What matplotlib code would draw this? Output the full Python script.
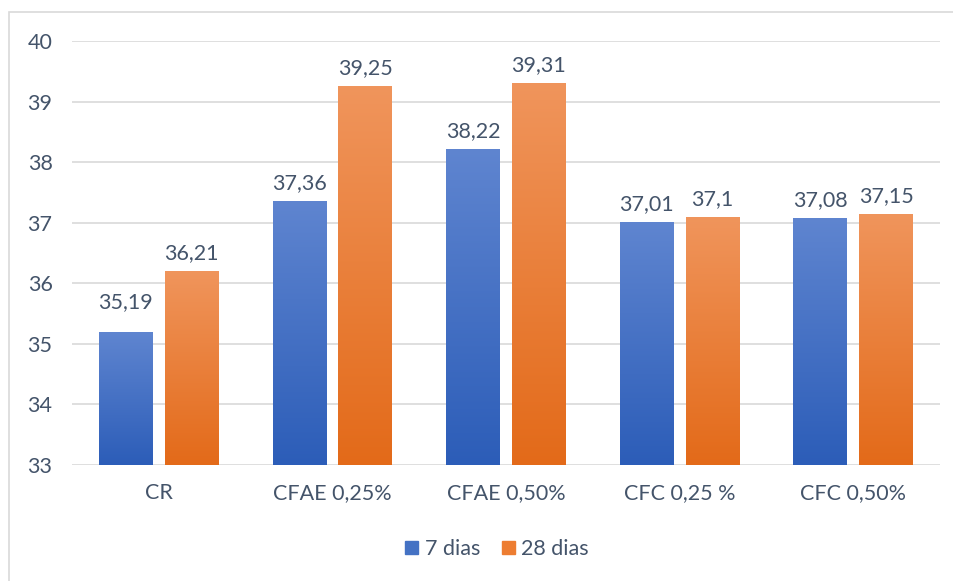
import numpy as np
import matplotlib
matplotlib.use("Agg")
from matplotlib import pyplot as plt
from matplotlib.colors import LinearSegmentedColormap
from matplotlib.patches import Rectangle

categories = ["CR", "CFAE 0,25%", "CFAE 0,50%", "CFC 0,25 %", "CFC 0,50%"]
dias_7 = [35.19, 37.36, 38.22, 37.01, 37.08]
dias_28 = [36.21, 39.25, 39.31, 37.10, 37.15]
labels_7 = ["35,19", "37,36", "38,22", "37,01", "37,08"]
labels_28 = ["36,21", "39,25", "39,31", "37,1", "37,15"]
yticks = [33, 34, 35, 36, 37, 38, 39, 40]

txt = "#44546A"
plt.rcParams['font.family'] = ['Lato', 'DejaVu Sans']
fs = 15.5

fig = plt.figure(figsize=(9.54, 5.81), dpi=100)
# marco del grafico (recortado a la derecha y abajo)
fig.patches.append(Rectangle((9 / 954, -0.1), 1.2, (581 - 12) / 581 + 0.1,
                             transform=fig.transFigure, fill=False,
                             edgecolor="#D9D9D9", linewidth=1.2))
ax = fig.add_axes([72 / 954, 1 - 465 / 581, 868 / 954, 424 / 581])

x = np.arange(len(categories))
w = 0.31
gap = 0.07

azul = LinearSegmentedColormap.from_list("azul", ["#2C5DB8", "#5F85D0"])
naranja = LinearSegmentedColormap.from_list("naranja", ["#E36A19", "#F0955C"])
grad = np.linspace(0, 1, 256).reshape(-1, 1)

def barras(pos, vals, cmap, etiquetas, extra=None):
    bars = ax.bar(pos, vals, w, bottom=0, color="none", zorder=2)
    for i, (b, v, t) in enumerate(zip(bars, vals, etiquetas)):
        x0 = b.get_x()
        im = ax.imshow(grad, cmap=cmap, aspect="auto", origin="lower",
                       extent=[x0, x0 + w, 33, v], zorder=2)
        im.set_clip_path(b)
        dy = 0.13 + (extra[i] if extra else 0)
        ax.text(x0 + w / 2, v + dy, t, ha="center", va="bottom",
                fontsize=fs, color=txt)
    return bars

# la etiqueta de CR (7 dias) va algo mas alta en el original
b7 = barras(x - (w + gap) / 2, dias_7, azul, labels_7, [0.2, 0, 0, 0, 0])
b28 = barras(x + (w + gap) / 2, dias_28, naranja, labels_28)

ax.set_xlim(-0.5, len(categories) - 0.5)
ax.set_ylim(33, 40)
ax.set_yticks(yticks)
ax.set_xticks(x)
ax.set_xticklabels(categories)
ax.tick_params(axis="both", length=0, labelsize=fs, colors=txt)
ax.tick_params(axis="x", pad=13)
ax.tick_params(axis="y", pad=14)
ax.grid(axis="y", color="#D9D9D9", linewidth=1.2, zorder=0)
ax.set_axisbelow(True)
for s in ax.spines.values():
    s.set_visible(False)

h1 = Rectangle((0, 0), 1, 1, color="#4472C4")
h2 = Rectangle((0, 0), 1, 1, color="#ED7D31")
fig.legend([h1, h2], ["7 dias", "28 dias"], loc="center",
           bbox_to_anchor=(497 / 954, 1 - 549 / 581), ncol=2, frameon=False,
           fontsize=fs, labelcolor=txt, handlelength=0.6, handleheight=0.6,
           handletextpad=0.3, columnspacing=1.0)

fig.savefig("out.png", dpi=100)
